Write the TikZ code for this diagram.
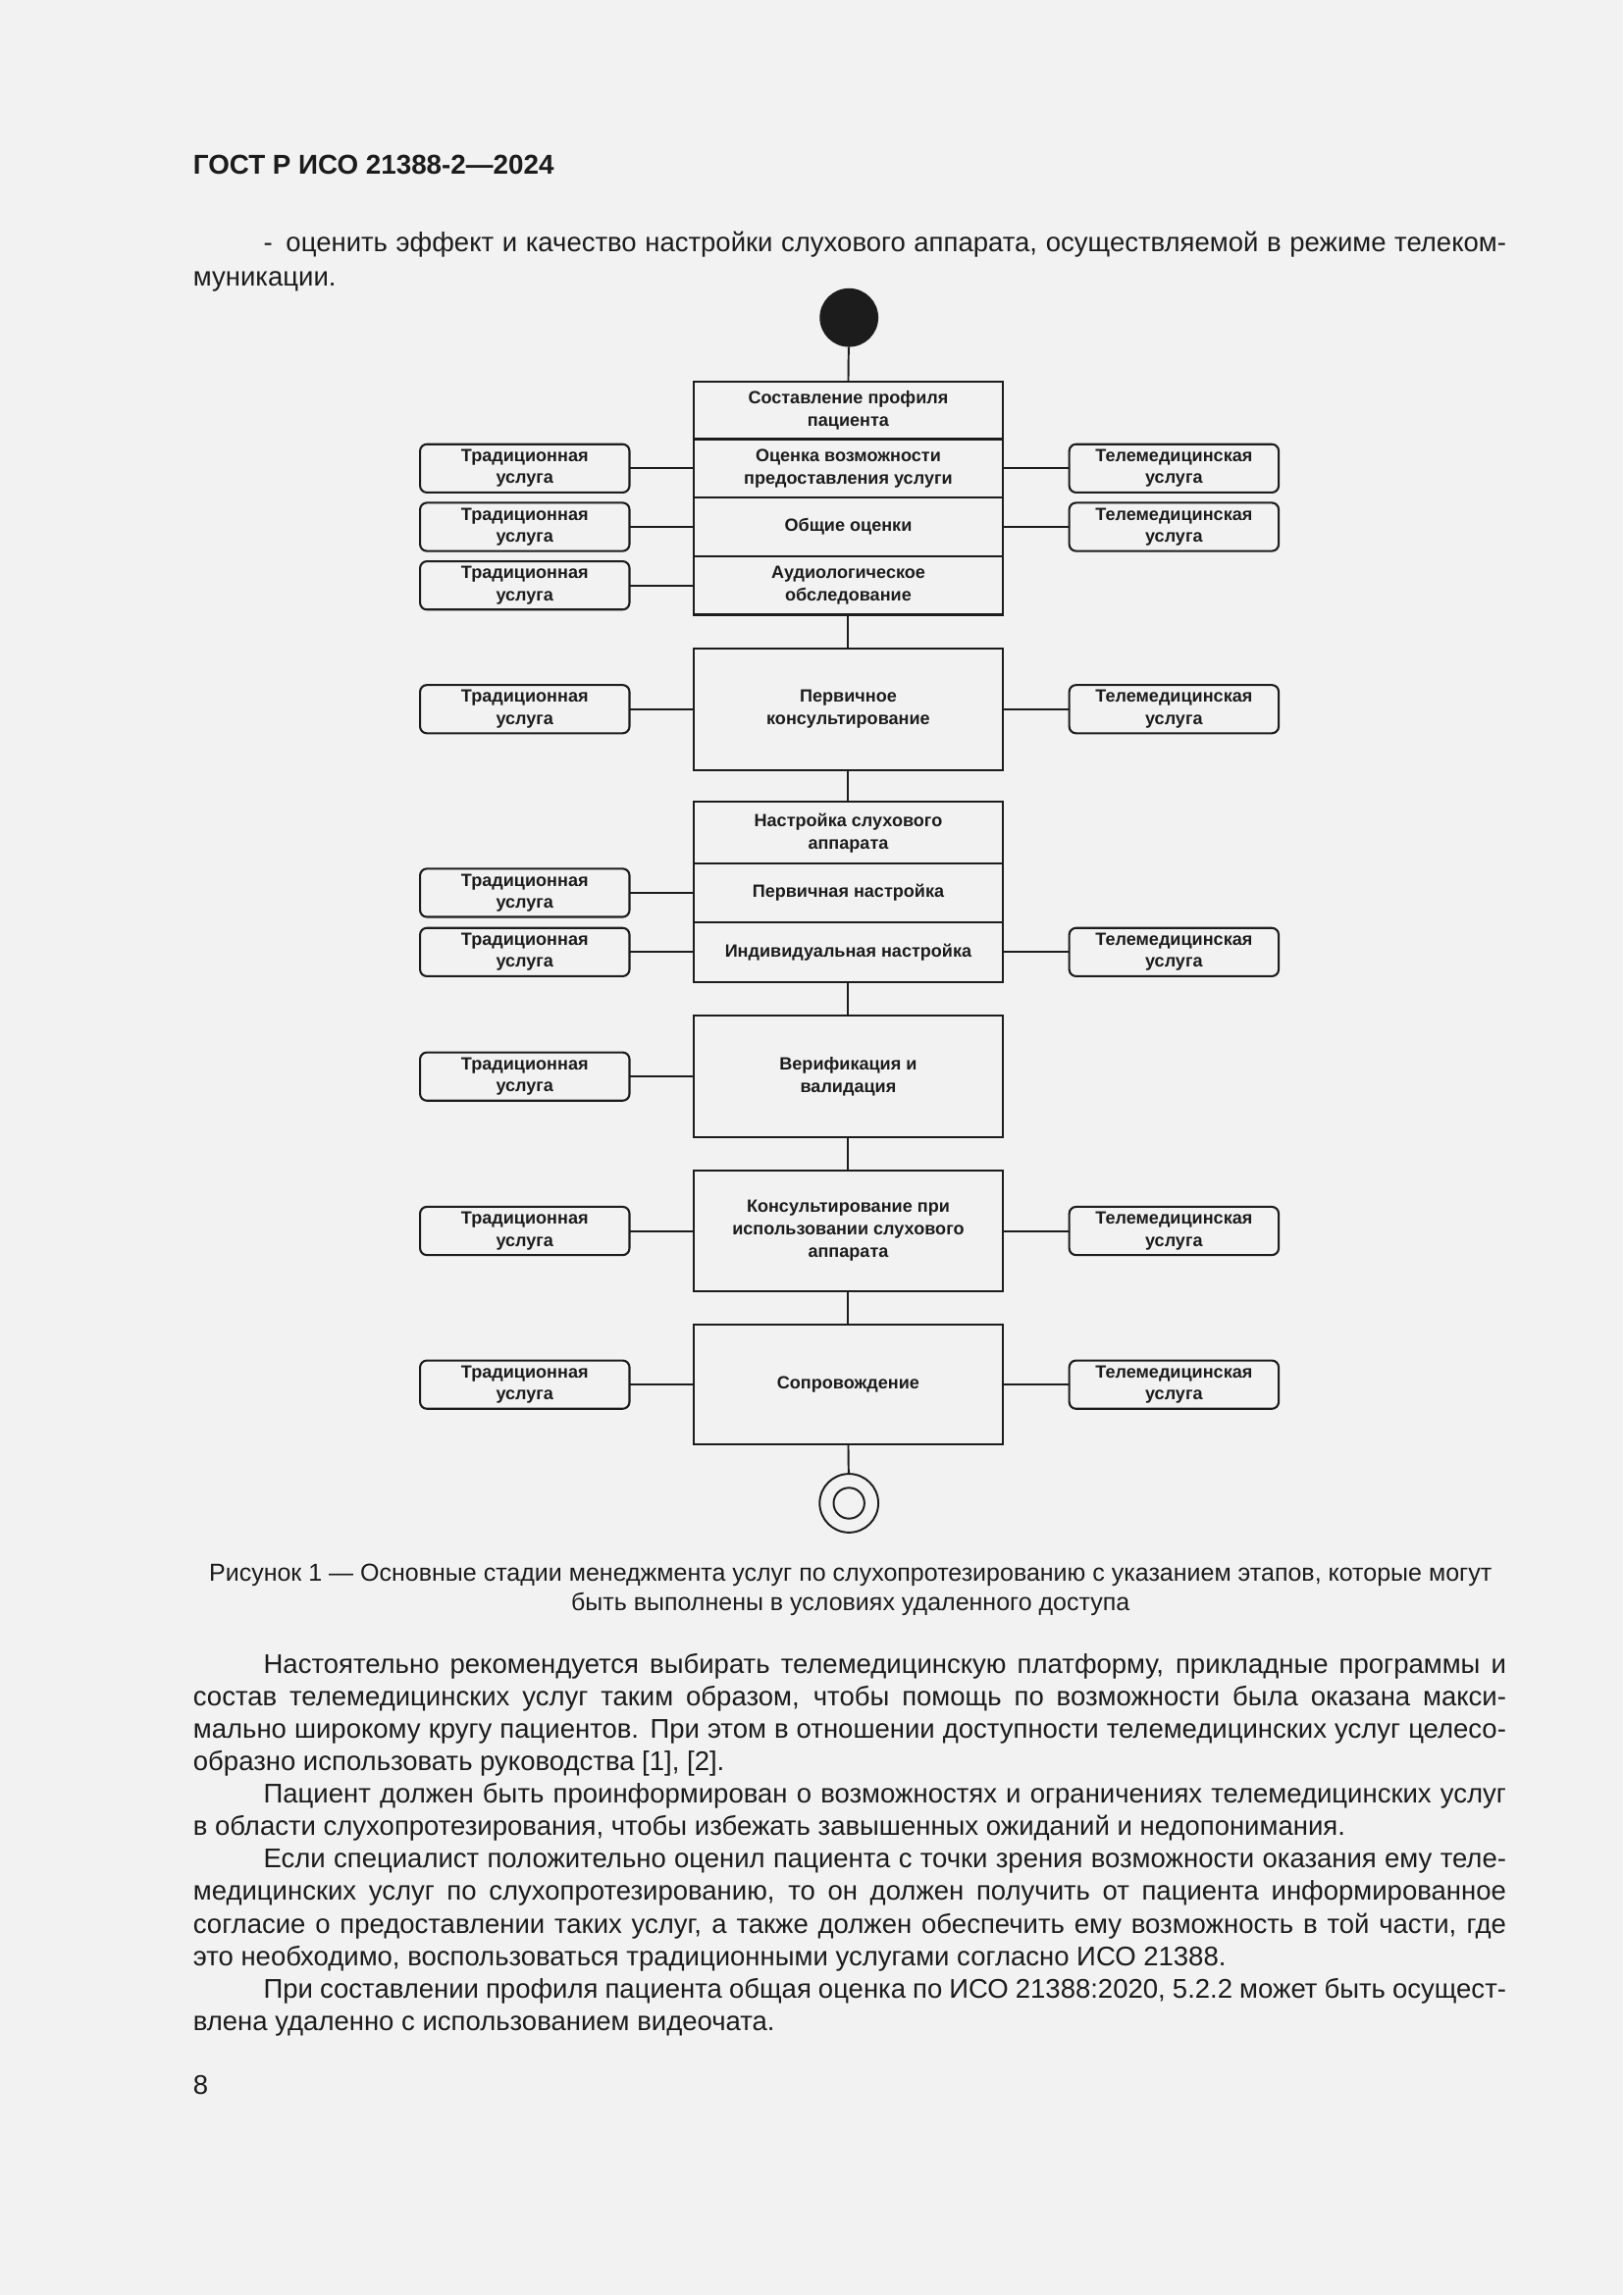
\documentclass[tikz,border=0pt]{standalone}
\usepackage{fontspec}
\setmainfont{Liberation Sans}
\definecolor{pagebg}{HTML}{F2F2F2}
\definecolor{ink}{HTML}{1C1C1C}
\newcommand\fulljust[1]{\makebox[481.5pt][s]{#1}}
\newcommand\indjust[1]{\hspace*{25.8pt}\makebox[455.7pt][s]{#1}}
\begin{document}
\begin{tikzpicture}[x=0.5368pt,y=-0.5368pt,
  every node/.style={inner sep=0pt, outer sep=0pt, text=ink},
  stage/.style={draw=ink, line width=0.75pt, minimum width=113.26pt, align=center,
    font=\fontsize{6.5}{8.3}\selectfont\bfseries},
  svc/.style={draw=ink, line width=0.75pt, rounded corners=2.5pt, minimum width=76.8pt,
    minimum height=17.7pt, align=center, font=\fontsize{6.5}{8.1}\selectfont\bfseries},
  link/.style={draw=ink, line width=0.7pt},
  bodytext/.style={font=\fontsize{9.9}{11.92}\selectfont}]
\fill[pagebg] (0,0) rectangle (1109,1568);
\useasboundingbox (0,0) rectangle (1109,1568);

% page text
\node[anchor=base west, font=\fontsize{10}{12}\selectfont\bfseries] (hdr) at (132,119) {ГОСТ Р ИСО 21388-2—2024};
\node[anchor=base west] (intro) at (132,172) {\parbox[t]{481.5pt}{\fontsize{9.9}{12.4}\selectfont\parindent=0pt
\indjust{-\enspace оценить эффект и качество настройки слухового аппарата, осуществляемой в режиме телеком-}\\
муникации.}};

% stages
\node[circle, fill=ink, minimum size=21.5pt] (start) at (580,217) {};
\node[stage, minimum height=20.94pt] (s1) at (579.5,280.5) {Составление профиля\\пациента};
\node[stage, minimum height=21.47pt] (s2) at (579.5,320) {Оценка возможности\\предоставления услуги};
\node[stage, minimum height=21.47pt] (s3) at (579.5,360) {Общие оценки};
\node[stage, minimum height=21.47pt] (s4) at (579.5,400) {Аудиологическое\\обследование};
\node[stage, minimum height=44.55pt] (s5) at (579.5,484.5) {Первичное\\консультирование};
\node[stage, minimum height=22.55pt] (s6) at (579.5,569) {Настройка слухового\\аппарата};
\node[stage, minimum height=21.47pt] (s7) at (579.5,610) {Первичная настройка};
\node[stage, minimum height=22.0pt] (s8) at (579.5,650.5) {Индивидуальная настройка};
\node[stage, minimum height=44.55pt] (s9) at (579.5,735.5) {Верификация и\\валидация};
\node[stage, minimum height=44.0pt] (s10) at (579.5,841) {Консультирование при\\использовании слухового\\аппарата};
\node[stage, minimum height=44.0pt] (s11) at (579.5,946) {Сопровождение};
\node[circle, draw=ink, line width=0.7pt, minimum size=21.5pt] (end) at (580,1027) {};
\node[circle, draw=ink, line width=0.7pt, minimum size=11.3pt] (endin) at (580,1027) {};

\draw[link] (start) -- (s1.north);
\draw[link] (s4.south) -- (s5.north);
\draw[link] (s5.south) -- (s6.north);
\draw[link] (s8.south) -- (s9.north);
\draw[link] (s9.south) -- (s10.north);
\draw[link] (s10.south) -- (s11.north);
\draw[link] (s11.south) -- (end);

% service boxes
\foreach \n/\y in {2/320,3/360,4/400,5/484.5,7/610,8/650.5,9/735.5,10/841,11/946}{
  \node[svc] (L\n) at (358.5,\y) {Традиционная\\услуга};
  \draw[link] (L\n) -- (s\n);
}
\foreach \n/\y in {2/320,3/360,5/484.5,8/650.5,10/841,11/946}{
  \node[svc] (R\n) at (802,\y) {Телемедицинская\\услуга};
  \draw[link] (s\n) -- (R\n);
}

% caption
\node[anchor=base] (cap) at (581,1080) {\parbox[t]{500pt}{\centering\fontsize{9}{11}\selectfont
Рисунок 1 — Основные стадии менеджмента услуг по слухопротезированию с указанием этапов, которые могут\\
быть выполнены в условиях удаленного доступа}};

% body
\node[anchor=base west] (body) at (132,1143) {\parbox[t]{481.5pt}{\fontsize{9.9}{11.92}\selectfont\parindent=0pt
\indjust{Настоятельно рекомендуется выбирать телемедицинскую платформу, прикладные программы и}\\
\fulljust{состав телемедицинских услуг таким образом, чтобы помощь по возможности была оказана макси-}\\
\fulljust{мально широкому кругу пациентов. При этом в отношении доступности телемедицинских услуг целесо-}\\
образно использовать руководства [1], [2].\\
\indjust{Пациент должен быть проинформирован о возможностях и ограничениях телемедицинских услуг}\\
в области слухопротезирования, чтобы избежать завышенных ожиданий и недопонимания.\\
\indjust{Если специалист положительно оценил пациента с точки зрения возможности оказания ему теле-}\\
\fulljust{медицинских услуг по слухопротезированию, то он должен получить от пациента информированное}\\
\fulljust{согласие о предоставлении таких услуг, а также должен обеспечить ему возможность в той части, где}\\
это необходимо, воспользоваться традиционными услугами согласно ИСО 21388.\\
\indjust{При составлении профиля пациента общая оценка по ИСО 21388:2020, 5.2.2 может быть осущест-}\\
влена удаленно с использованием видеочата.}};

\node[anchor=base west, bodytext] (pg) at (132,1431) {8};
\end{tikzpicture}
\end{document}
